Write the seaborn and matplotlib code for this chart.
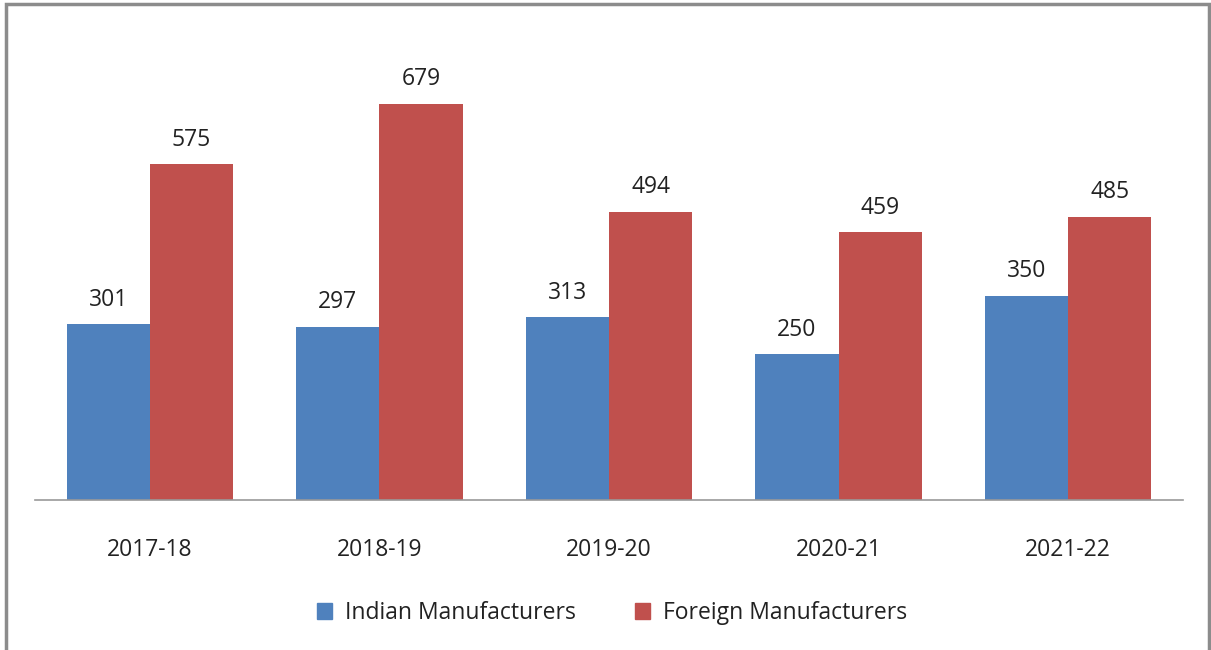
import pandas as pd
import matplotlib.pyplot as plt
import matplotlib.patches as mpatches
import seaborn as sns

years = ["2017-18", "2018-19", "2019-20", "2020-21", "2021-22"]
indian = [301, 297, 313, 250, 350]
foreign = [575, 679, 494, 459, 485]
series = ["Indian Manufacturers", "Foreign Manufacturers"]
colores = ["#4F81BD", "#C0504D"]

df = pd.DataFrame({
    "year": years * 2,
    "value": indian + foreign,
    "serie": [series[0]] * len(years) + [series[1]] * len(years),
})

sns.set_style("white")
plt.rcParams['font.family'] = ['Open Sans', 'DejaVu Sans']

fig = plt.figure(figsize=(12.11, 6.5), dpi=100)
ax = fig.add_axes([35 / 1211, 1 - 500 / 650, (1183 - 35) / 1211, (500 - 33) / 650])

sns.barplot(data=df, x="year", y="value", hue="serie", palette=colores,
            width=0.725, saturation=1, linewidth=0, ax=ax, legend=False)

# etiquetas de valores
for cont in ax.containers:
    ax.bar_label(cont, fmt="%d", padding=9, fontsize=16.5, color="#222222")

ax.set_ylim(0, 800)
ax.set_xlim(-0.5, len(years) - 0.5)
ax.set_xlabel("")
ax.set_ylabel("")
ax.set_yticks([])
ax.tick_params(axis="x", length=0, pad=27, labelsize=16.5, labelcolor="#222222")
for s in ["top", "right", "left"]:
    ax.spines[s].set_visible(False)
ax.spines["bottom"].set_color("#999999")
ax.spines["bottom"].set_linewidth(1.2)

# leyenda
handles = [mpatches.Patch(color=c, label=s) for c, s in zip(colores, series)]
fig.legend(handles=handles, loc="center", bbox_to_anchor=(612 / 1211, 1 - 613 / 650),
           ncol=2, frameon=False, fontsize=16.5, handlelength=0.65, handleheight=0.65,
           handletextpad=0.55, columnspacing=2.6, labelcolor="#222222")

# borde del grafico
borde = mpatches.Rectangle((6 / 1211, -0.05), (1209 - 6) / 1211, 1.05 - 4 / 650,
                           transform=fig.transFigure, fill=False,
                           edgecolor="#8c8c8c", linewidth=2.5)
fig.patches.append(borde)

fig.savefig("out.png", dpi=100)
